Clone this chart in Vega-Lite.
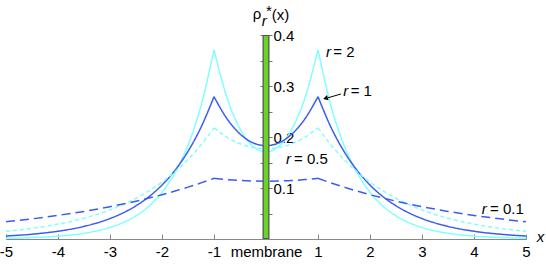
{
  "$schema": "https://vega.github.io/schema/vega-lite/v6.json",
  "width": 520,
  "height": 204,
  "autosize": {"type": "none"},
  "padding": {"left": 6, "right": 20, "top": 35, "bottom": 25},
  "config": {
    "view": {"stroke": null},
    "font": "Liberation Sans",
    "axis": {"labelFont": "Liberation Sans", "labelColor": "#000000", "grid": false}
  },
  "resolve": {"axis": {"y": "independent"}},
  "layer": [
    {
      "data": {"values": [
        {"x":-5,"r":"2","s":"L","y":0.0014},{"x":-4.5,"r":"2","s":"L","y":0.0028},{"x":-4,"r":"2","s":"L","y":0.0056},{"x":-3.5,"r":"2","s":"L","y":0.0112},{"x":-3,"r":"2","s":"L","y":0.0226},{"x":-2.75,"r":"2","s":"L","y":0.032},{"x":-2.5,"r":"2","s":"L","y":0.0454},{"x":-2.25,"r":"2","s":"L","y":0.0645},{"x":-2,"r":"2","s":"L","y":0.0915},{"x":-1.75,"r":"2","s":"L","y":0.130},{"x":-1.5,"r":"2","s":"L","y":0.184},{"x":-1.25,"r":"2","s":"L","y":0.261},{"x":-1,"r":"2","s":"L","y":0.371},
        {"x":-1,"r":"2","s":"C","y":0.371},{"x":-0.75,"r":"2","s":"C","y":0.277},{"x":-0.5,"r":"2","s":"C","y":0.216},{"x":-0.25,"r":"2","s":"C","y":0.182},{"x":0,"r":"2","s":"C","y":0.171},{"x":0.25,"r":"2","s":"C","y":0.182},{"x":0.5,"r":"2","s":"C","y":0.216},{"x":0.75,"r":"2","s":"C","y":0.277},{"x":1,"r":"2","s":"C","y":0.371},
        {"x":1,"r":"2","s":"R","y":0.371},{"x":1.25,"r":"2","s":"R","y":0.261},{"x":1.5,"r":"2","s":"R","y":0.184},{"x":1.75,"r":"2","s":"R","y":0.130},{"x":2,"r":"2","s":"R","y":0.0915},{"x":2.25,"r":"2","s":"R","y":0.0645},{"x":2.5,"r":"2","s":"R","y":0.0454},{"x":2.75,"r":"2","s":"R","y":0.032},{"x":3,"r":"2","s":"R","y":0.0226},{"x":3.5,"r":"2","s":"R","y":0.0112},{"x":4,"r":"2","s":"R","y":0.0056},{"x":4.5,"r":"2","s":"R","y":0.0028},{"x":5,"r":"2","s":"R","y":0.0014},

        {"x":-5,"r":"1","s":"L","y":0.0058},{"x":-4.5,"r":"1","s":"L","y":0.0094},{"x":-4,"r":"1","s":"L","y":0.0152},{"x":-3.5,"r":"1","s":"L","y":0.0247},{"x":-3,"r":"1","s":"L","y":0.0401},{"x":-2.75,"r":"1","s":"L","y":0.0511},{"x":-2.5,"r":"1","s":"L","y":0.0651},{"x":-2.25,"r":"1","s":"L","y":0.083},{"x":-2,"r":"1","s":"L","y":0.1058},{"x":-1.75,"r":"1","s":"L","y":0.1348},{"x":-1.5,"r":"1","s":"L","y":0.1718},{"x":-1.25,"r":"1","s":"L","y":0.219},{"x":-1,"r":"1","s":"L","y":0.279},
        {"x":-1,"r":"1","s":"C","y":0.279},{"x":-0.75,"r":"1","s":"C","y":0.2358},{"x":-0.5,"r":"1","s":"C","y":0.2059},{"x":-0.25,"r":"1","s":"C","y":0.1886},{"x":0,"r":"1","s":"C","y":0.183},{"x":0.25,"r":"1","s":"C","y":0.1886},{"x":0.5,"r":"1","s":"C","y":0.2059},{"x":0.75,"r":"1","s":"C","y":0.2358},{"x":1,"r":"1","s":"C","y":0.279},
        {"x":1,"r":"1","s":"R","y":0.279},{"x":1.25,"r":"1","s":"R","y":0.219},{"x":1.5,"r":"1","s":"R","y":0.1718},{"x":1.75,"r":"1","s":"R","y":0.1348},{"x":2,"r":"1","s":"R","y":0.1058},{"x":2.25,"r":"1","s":"R","y":0.083},{"x":2.5,"r":"1","s":"R","y":0.0651},{"x":2.75,"r":"1","s":"R","y":0.0511},{"x":3,"r":"1","s":"R","y":0.0401},{"x":3.5,"r":"1","s":"R","y":0.0247},{"x":4,"r":"1","s":"R","y":0.0152},{"x":4.5,"r":"1","s":"R","y":0.0094},{"x":5,"r":"1","s":"R","y":0.0058},

        {"x":-5,"r":"0.5","s":"L","y":0.015},{"x":-4.5,"r":"0.5","s":"L","y":0.0209},{"x":-4,"r":"0.5","s":"L","y":0.0292},{"x":-3.5,"r":"0.5","s":"L","y":0.0408},{"x":-3,"r":"0.5","s":"L","y":0.0571},{"x":-2.75,"r":"0.5","s":"L","y":0.0675},{"x":-2.5,"r":"0.5","s":"L","y":0.0798},{"x":-2.25,"r":"0.5","s":"L","y":0.0944},{"x":-2,"r":"0.5","s":"L","y":0.1116},{"x":-1.75,"r":"0.5","s":"L","y":0.1319},{"x":-1.5,"r":"0.5","s":"L","y":0.1559},{"x":-1.25,"r":"0.5","s":"L","y":0.1844},{"x":-1,"r":"0.5","s":"L","y":0.218},
        {"x":-1,"r":"0.5","s":"C","y":0.218},{"x":-0.75,"r":"0.5","s":"C","y":0.1996},{"x":-0.5,"r":"0.5","s":"C","y":0.1868},{"x":-0.25,"r":"0.5","s":"C","y":0.1793},{"x":0,"r":"0.5","s":"C","y":0.177},{"x":0.25,"r":"0.5","s":"C","y":0.1793},{"x":0.5,"r":"0.5","s":"C","y":0.1868},{"x":0.75,"r":"0.5","s":"C","y":0.1996},{"x":1,"r":"0.5","s":"C","y":0.218},
        {"x":1,"r":"0.5","s":"R","y":0.218},{"x":1.25,"r":"0.5","s":"R","y":0.1844},{"x":1.5,"r":"0.5","s":"R","y":0.1559},{"x":1.75,"r":"0.5","s":"R","y":0.1319},{"x":2,"r":"0.5","s":"R","y":0.1116},{"x":2.25,"r":"0.5","s":"R","y":0.0944},{"x":2.5,"r":"0.5","s":"R","y":0.0798},{"x":2.75,"r":"0.5","s":"R","y":0.0675},{"x":3,"r":"0.5","s":"R","y":0.0571},{"x":3.5,"r":"0.5","s":"R","y":0.0408},{"x":4,"r":"0.5","s":"R","y":0.0292},{"x":4.5,"r":"0.5","s":"R","y":0.0209},{"x":5,"r":"0.5","s":"R","y":0.015},

        {"x":-5,"r":"0.1","s":"L","y":0.0338},{"x":-4.5,"r":"0.1","s":"L","y":0.0395},{"x":-4,"r":"0.1","s":"L","y":0.0463},{"x":-3.5,"r":"0.1","s":"L","y":0.0541},{"x":-3,"r":"0.1","s":"L","y":0.0634},{"x":-2.75,"r":"0.1","s":"L","y":0.0686},{"x":-2.5,"r":"0.1","s":"L","y":0.0742},{"x":-2.25,"r":"0.1","s":"L","y":0.0803},{"x":-2,"r":"0.1","s":"L","y":0.0868},{"x":-1.75,"r":"0.1","s":"L","y":0.094},{"x":-1.5,"r":"0.1","s":"L","y":0.1017},{"x":-1.25,"r":"0.1","s":"L","y":0.110},{"x":-1,"r":"0.1","s":"L","y":0.119},
        {"x":-1,"r":"0.1","s":"C","y":0.119},{"x":-0.75,"r":"0.1","s":"C","y":0.1165},{"x":-0.5,"r":"0.1","s":"C","y":0.1147},{"x":-0.25,"r":"0.1","s":"C","y":0.1137},{"x":0,"r":"0.1","s":"C","y":0.1133},{"x":0.25,"r":"0.1","s":"C","y":0.1137},{"x":0.5,"r":"0.1","s":"C","y":0.1147},{"x":0.75,"r":"0.1","s":"C","y":0.1165},{"x":1,"r":"0.1","s":"C","y":0.119},
        {"x":1,"r":"0.1","s":"R","y":0.119},{"x":1.25,"r":"0.1","s":"R","y":0.110},{"x":1.5,"r":"0.1","s":"R","y":0.1017},{"x":1.75,"r":"0.1","s":"R","y":0.094},{"x":2,"r":"0.1","s":"R","y":0.0868},{"x":2.25,"r":"0.1","s":"R","y":0.0803},{"x":2.5,"r":"0.1","s":"R","y":0.0742},{"x":2.75,"r":"0.1","s":"R","y":0.0686},{"x":3,"r":"0.1","s":"R","y":0.0634},{"x":3.5,"r":"0.1","s":"R","y":0.0541},{"x":4,"r":"0.1","s":"R","y":0.0463},{"x":4.5,"r":"0.1","s":"R","y":0.0395},{"x":5,"r":"0.1","s":"R","y":0.0338}
      ]},
      "mark": {"type": "line", "strokeWidth": 1.5, "interpolate": "monotone"},
      "encoding": {
        "x": {"field": "x", "type": "quantitative", "scale": {"domain": [-5, 5], "nice": false},
          "axis": {"values": [-5,-4,-3,-2,-1,0,1,2,3,4,5], "labelExpr": "datum.value == 0 ? 'membrane' : '' + datum.value", "title": null, "tickSize": -5, "labelPadding": 10, "labelFontSize": 15, "labelFlush": false, "domainColor": "#888888", "tickColor": "#888888"}},
        "y": {"field": "y", "type": "quantitative", "scale": {"domain": [0, 0.4], "nice": false},
          "axis": {"orient": "right", "offset": -260, "values": [0.05,0.1,0.15,0.2,0.25,0.3,0.35,0.4], "labelExpr": "round(datum.value*20) % 2 == 0 ? format(datum.value, '.1f') : ''", "title": null, "domain": false, "tickSize": 6, "labelPadding": 1, "labelFontSize": 15, "tickColor": "#777777"}},
        "color": {"field": "r", "type": "nominal", "scale": {"domain": ["2","1","0.5","0.1"], "range": ["#80ffff","#3a5cf2","#80ffff","#3a5cf2"]}, "legend": null},
        "strokeDash": {"field": "r", "type": "nominal", "scale": {"domain": ["2","1","0.5","0.1"], "range": [[1,0],[1,0],[4,3],[9,5]]}, "legend": null},
        "detail": {"field": "s", "type": "nominal"}
      }
    },
    {
      "data": {"values": [{}]},
      "mark": {"type": "rule", "strokeWidth": 7, "color": "#555555"},
      "encoding": {
        "x": {"datum": 0, "type": "quantitative", "scale": {"domain": [-5, 5], "nice": false}},
        "y": {"datum": 0, "type": "quantitative", "scale": {"domain": [0, 0.4], "nice": false},
          "axis": {"orient": "left", "offset": -260, "values": [0.05,0.1,0.15,0.2,0.25,0.3,0.35,0.4], "labels": false, "title": null, "domain": false, "tickSize": 6, "tickColor": "#777777"}},
        "y2": {"datum": 0.4}
      }
    },
    {
      "data": {"values": [{}]},
      "mark": {"type": "rule", "strokeWidth": 4.5, "color": "#6ad424"},
      "encoding": {
        "x": {"datum": 0, "type": "quantitative", "scale": {"domain": [-5, 5], "nice": false}},
        "y": {"datum": 0.002, "type": "quantitative", "scale": {"domain": [0, 0.4], "nice": false}, "axis": null},
        "y2": {"datum": 0.398}
      }
    },
    {
      "data": {"values": [{"x": 1.442, "y": 0.2843, "x2": 1.192, "y2": 0.2769}]},
      "mark": {"type": "rule", "strokeWidth": 1, "color": "#000000"},
      "encoding": {
        "x": {"field": "x", "type": "quantitative", "scale": {"domain": [-5, 5], "nice": false}},
        "y": {"field": "y", "type": "quantitative", "scale": {"domain": [0, 0.4], "nice": false}, "axis": null},
        "x2": {"field": "x2"},
        "y2": {"field": "y2"}
      }
    },
    {
      "data": {"values": [{"x": 1.144, "y": 0.2759}]},
      "mark": {"type": "point", "shape": "triangle-left", "filled": true, "size": 30, "angle": -16, "color": "#000000", "opacity": 1},
      "encoding": {
        "x": {"field": "x", "type": "quantitative", "scale": {"domain": [-5, 5], "nice": false}},
        "y": {"field": "y", "type": "quantitative", "scale": {"domain": [0, 0.4], "nice": false}, "axis": null}
      }
    },
    {
      "data": {"values": [
        {"x": 1.154, "y": 0.357, "t": "r"},
        {"x": 1.487, "y": 0.280, "t": "r"},
        {"x": 0.385, "y": 0.147, "t": "r"},
        {"x": 4.148, "y": 0.050, "t": "r"},
        {"x": 5.206, "y": -0.005, "t": "x"},
        {"x": -0.083, "y": 0.4167, "t": "r"}
      ]},
      "mark": {"type": "text", "fontStyle": "italic", "fontSize": 15, "align": "left", "baseline": "alphabetic", "color": "#000000"},
      "encoding": {
        "x": {"field": "x", "type": "quantitative", "scale": {"domain": [-5, 5], "nice": false}},
        "y": {"field": "y", "type": "quantitative", "scale": {"domain": [0, 0.4], "nice": false}, "axis": null},
        "text": {"field": "t"}
      }
    },
    {
      "data": {"values": [
        {"x": 1.294, "y": 0.357, "t": "= 2"},
        {"x": 1.628, "y": 0.280, "t": "= 1"},
        {"x": 0.538, "y": 0.147, "t": "= 0.5"},
        {"x": 4.308, "y": 0.050, "t": "= 0.1"},
        {"x": -0.256, "y": 0.431, "t": "ρ"},
        {"x": 0.0, "y": 0.437, "t": "*"},
        {"x": 0.11, "y": 0.430, "t": "(x)"}
      ]},
      "mark": {"type": "text", "fontSize": 15, "align": "left", "baseline": "alphabetic", "color": "#000000"},
      "encoding": {
        "x": {"field": "x", "type": "quantitative", "scale": {"domain": [-5, 5], "nice": false}},
        "y": {"field": "y", "type": "quantitative", "scale": {"domain": [0, 0.4], "nice": false}, "axis": null},
        "text": {"field": "t"}
      }
    }
  ]
}
